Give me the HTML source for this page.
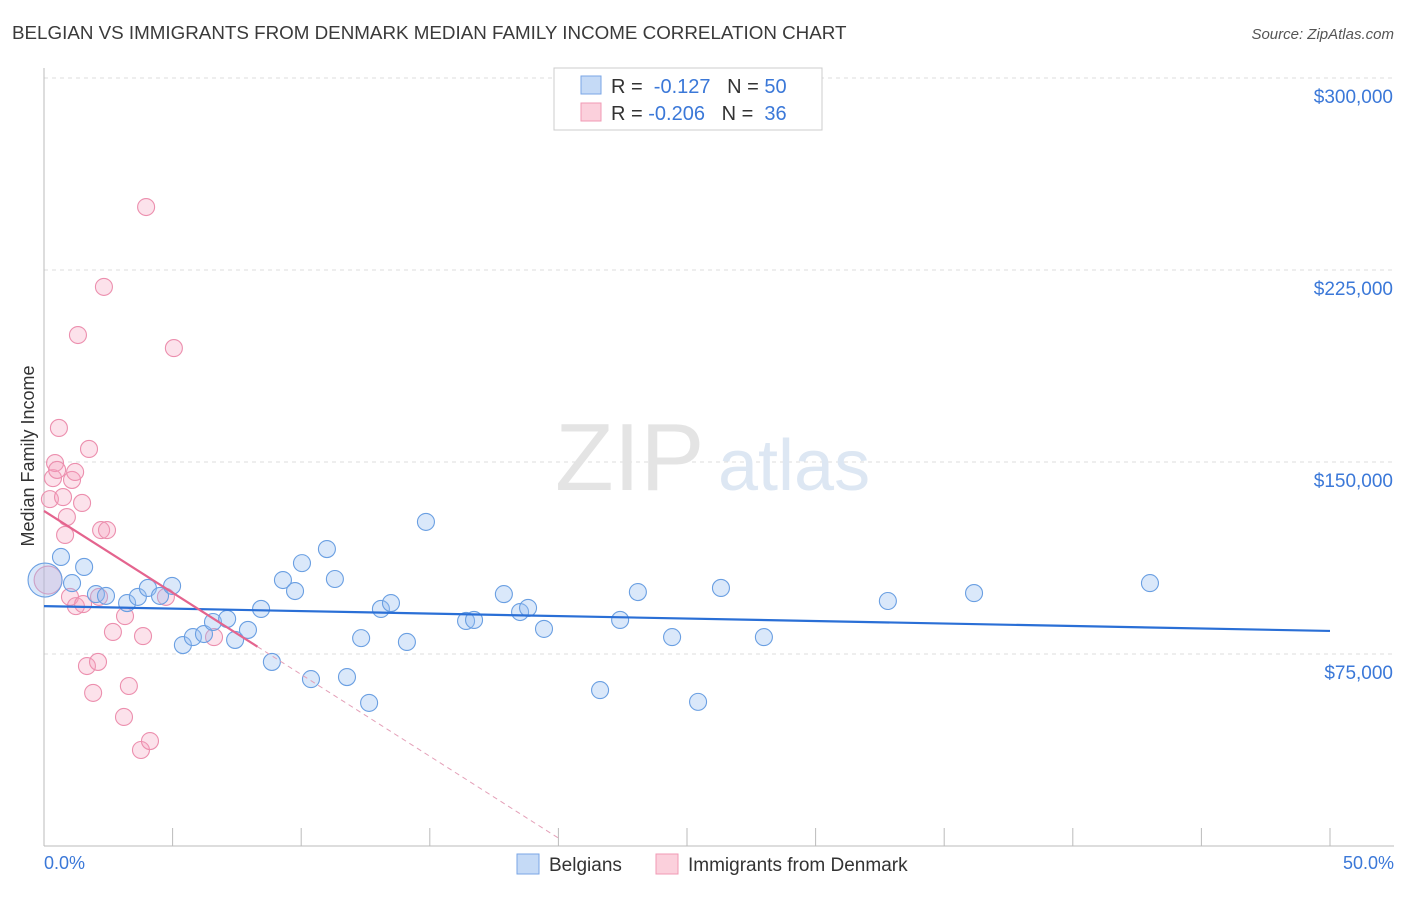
<!DOCTYPE html>
<html><head><meta charset="utf-8"><style>
body{margin:0;background:#fff;font-family:"Liberation Sans",sans-serif}
svg text{font-family:"Liberation Sans",sans-serif}
</style></head><body>
<svg id="chart" width="1406" height="892" xmlns="http://www.w3.org/2000/svg">
<text x="12" y="39" font-size="18.8" fill="#3a3a3a">BELGIAN VS IMMIGRANTS FROM DENMARK MEDIAN FAMILY INCOME CORRELATION CHART</text>
<text x="1394" y="39" font-size="15" fill="#555" text-anchor="end" font-style="italic">Source: ZipAtlas.com</text>
<g id="grid"></g>
<text x="555" y="490" font-size="96" fill="#e4e4e4" font-family="Liberation Serif">ZIP</text>
<text x="718" y="490" font-size="72" fill="#dde7f3">atlas</text>
<line x1="44" y1="68" x2="44" y2="846" stroke="#bbb"/>
<line x1="44" y1="846" x2="1394" y2="846" stroke="#bbb"/>
<text transform="translate(34,456) rotate(-90)" font-size="18" fill="#333" text-anchor="middle">Median Family Income</text>
<text x="44" y="869" font-size="18" fill="#3b78d8">0.0%</text>
<text x="1394" y="869" font-size="18" fill="#3b78d8" text-anchor="end">50.0%</text>
<g id="marks"></g>
<g>
<rect x="554" y="68" width="268" height="62" fill="#fff" stroke="#ccc"/>
<rect x="581" y="76" width="20" height="18" fill="#c5daf6" stroke="#7aa6e6"/>
<rect x="581" y="103" width="20" height="18" fill="#fbd0dc" stroke="#f09ab4"/>
<text x="611" y="93" font-size="20" fill="#333">R = <tspan fill="#3b78d8">&#160;-0.127</tspan>&#160;&#160;&#160;N = <tspan fill="#3b78d8">50</tspan></text>
<text x="611" y="120" font-size="20" fill="#333">R = <tspan fill="#3b78d8">-0.206</tspan>&#160;&#160;&#160;N = <tspan fill="#3b78d8">&#160;36</tspan></text>
</g>
<g>
<rect x="517" y="854" width="22" height="20" fill="#c5daf6" stroke="#7aa6e6"/>
<text x="549" y="871" font-size="19" fill="#333">Belgians</text>
<rect x="656" y="854" width="22" height="20" fill="#fbd0dc" stroke="#f09ab4"/>
<text x="688" y="871" font-size="19" fill="#333">Immigrants from Denmark</text>
</g>
</svg>
<script>
const yTicks=[75000,150000,225000,300000];
const yTickLabels=["$75,000","$150,000","$225,000","$300,000"];
const xTicks=[5,10,15,20,25,30,35,40,45,50];
const belgX=[0.04,0.66,1.09,1.56,2.02,2.41,3.23,3.65,4.04,4.51,4.98,5.40,5.79,6.22,6.57,7.12,7.43,7.93,8.44,8.86,9.29,9.76,10.03,10.38,11.00,11.31,11.78,12.33,12.64,13.10,13.49,14.11,14.85,16.41,16.72,17.88,18.51,18.82,19.44,21.62,22.40,23.09,24.42,25.43,26.32,27.99,32.81,36.16,43.00];
const belgY=[103.9,112.9,102.7,109.0,98.4,97.7,94.9,97.3,100.8,97.7,101.6,78.5,81.6,82.8,87.5,88.7,80.5,84.4,92.6,71.9,103.9,99.6,110.5,65.2,116.0,104.3,66.0,81.2,55.9,92.6,94.9,79.7,126.6,87.9,88.3,98.4,91.4,93.0,84.8,60.9,88.3,99.2,81.6,56.3,100.8,81.6,95.7,98.8,102.7];
const denX=[0.16,0.23,0.35,0.43,0.51,0.58,0.74,0.82,0.89,1.01,1.09,1.21,1.24,1.48,1.52,1.67,1.75,1.91,2.10,2.14,2.22,2.33,2.45,2.68,3.11,3.15,3.30,3.77,3.85,3.97,4.12,4.74,5.05,6.61,1.32];
const denY=[103.9,135.5,143.7,149.6,146.9,163.3,136.3,121.5,128.5,97.3,143.0,146.1,93.7,134.0,94.5,70.3,155.1,59.8,71.9,97.3,123.4,218.4,123.4,83.6,50.4,89.8,62.5,37.5,82.0,249.6,41.0,97.3,194.5,81.6,199.6];
const belgTrend=[93.7,84.0];
const denTrend=[130.9,-6.39];
const NS="http://www.w3.org/2000/svg";
const X=p=>44+p*25.72;
const Y=k=>654-(k-75)*192/75;
function mk(tag,attrs,parent){const e=document.createElementNS(NS,tag);for(const k in attrs)e.setAttribute(k,attrs[k]);parent.appendChild(e);return e;}
const grid=document.getElementById('grid');
yTicks.forEach((t,i)=>{
 const l=mk('line',{x1:44,x2:1394,y1:Y(t/1000),y2:Y(t/1000),stroke:'#ddd','stroke-dasharray':'4,4'},grid);
 
 
 const tx=mk('text',{x:1393,y:Y(t/1000)+25,'font-size':19,fill:'#3b78d8','text-anchor':'end'},grid);
 tx.textContent=yTickLabels[i];
 
 
});
xTicks.forEach(t=>{
 const l=mk('line',{x1:X(t),x2:X(t),y1:828,y2:846,stroke:'#bbb'},grid);
 
 
});
const g=document.getElementById('marks');
denX.forEach((x,i)=>{
 const c=mk('circle',{cx:X(x),cy:Y(denY[i]),r:i==0?14:8.5,fill:'rgba(246,160,188,0.3)',stroke:'#ec8fae','stroke-width':1.1},g);
 
 
});
belgX.forEach((x,i)=>{
 const c=mk('circle',{cx:X(x),cy:Y(belgY[i]),r:i==0?17:8.5,fill:'rgba(150,190,240,0.35)',stroke:'#6a9fe2','stroke-width':1.1},g);
 
 
});
let l=mk('line',{x1:X(0),y1:Y(belgTrend[0]),x2:X(50),y2:Y(belgTrend[1]),stroke:'#2a6fd6','stroke-width':2.2},g);


l=mk('line',{x1:X(0),y1:Y(denTrend[0]),x2:X(8.3),y2:Y(denTrend[0]+denTrend[1]*8.3),stroke:'#e4648e','stroke-width':2.2},g);


l=mk('line',{x1:X(8.3),y1:Y(denTrend[0]+denTrend[1]*8.3),x2:X(20),y2:Y(denTrend[0]+denTrend[1]*20),stroke:'#e4a0b8','stroke-width':1,'stroke-dasharray':'5,4'},g);


</script>
</body></html>
